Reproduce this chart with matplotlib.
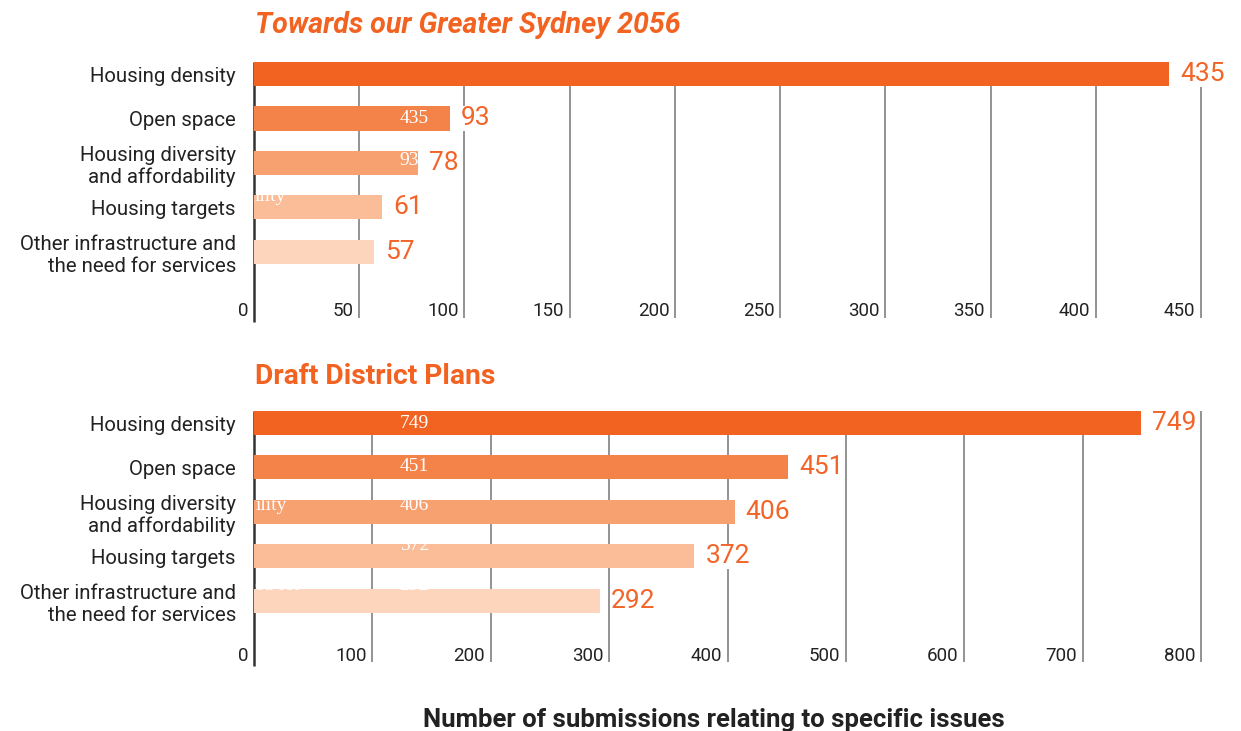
import matplotlib
matplotlib.use("Agg")
import matplotlib.pyplot as plt

# data
categories = ["Housing density", "Open space", "Housing diversity\nand affordability",
              "Housing targets", "Other infrastructure and\nthe need for services"]
sydney_2056 = [435, 93, 78, 61, 57]
district_plans = [749, 451, 406, 372, 292]
ticks_top = [0, 50, 100, 150, 200, 250, 300, 350, 400, 450]
ticks_bottom = [0, 100, 200, 300, 400, 500, 600, 700, 800]

bar_colors = ["#F26322", "#F4834A", "#F7A171", "#FABD97", "#FDD5BD"]
orange = "#F26322"
label_orange = "#F26428"

plt.rcParams['font.family'] = ['Roboto', 'DejaVu Sans']

W, H = 1241, 731
fig = plt.figure(figsize=(W / 100, H / 100), dpi=100)


def px_axes(left, top, right, bottom):
    return fig.add_axes([left / W, 1 - bottom / H, (right - left) / W, (bottom - top) / H])


def draw_panel(ax, values, ticks, xmax, ybottom, tick_y, ghosts):
    rows = list(range(len(values)))
    ax.set_xlim(0, xmax)
    ax.set_ylim(ybottom, -0.27)
    for t in ticks[1:]:
        ax.vlines(t, -0.27, ybottom - 0.05, color="#808080", lw=1.2, zorder=1, clip_on=False)
    ax.vlines(0, -0.27, ybottom + 0.05, color="#333333", lw=1.8, zorder=1, clip_on=False)
    ax.barh(rows, values, height=0.54, color=bar_colors, zorder=2)
    for r, v in zip(rows, values):
        ax.annotate(str(v), (v, r), xytext=(8, 0), textcoords="offset points",
                    ha="left", va="center", fontsize=19, color=label_orange,
                    fontweight="normal", zorder=4,
                    bbox=dict(facecolor="white", edgecolor="none", pad=0.3))
    for t in ticks:
        ax.annotate(str(t), (t, tick_y), xytext=(-4, 0), textcoords="offset points",
                    ha="right", va="center", fontsize=13.5, color="#222222")
    # white ghost labels left over on the bars
    for txt, x, y in ghosts:
        ax.text(x, y, txt, color="white", fontsize=14, family="Liberation Serif",
                ha="left", va="center", zorder=3)
    ax.set_yticks(rows)
    ax.set_yticklabels(categories, fontsize=14.7, color="#222222")
    ax.tick_params(axis="y", length=0, pad=13)
    ax.set_xticks([])
    for s in ax.spines.values():
        s.set_visible(False)
    ax.patch.set_visible(False)


ax1 = px_axes(254, 62, 1201, 320)
draw_panel(ax1, sydney_2056, ticks_top, 450, 5.53, 5.33,
           [("435", 69, 1.0), ("93", 69, 1.95), ("ility", 0.5, 2.75)])

ax2 = px_axes(254, 411, 1201, 664)
draw_panel(ax2, district_plans, ticks_bottom, 800, 5.42, 5.24,
           [("749", 123, 0.02), ("451", 123, 0.97), ("406", 123, 1.85),
            ("372", 123, 2.75), ("292", 123, 3.65), ("ility", 1, 1.85), ("ed for", 1, 3.65)])

fig.text(255 / W, 1 - 25 / H, "Towards our Greater Sydney 2056", fontsize=20.6,
         fontweight="bold", fontstyle="italic", color=orange, ha="left", va="center")
fig.text(255 / W, 1 - 377 / H, "Draft District Plans", fontsize=20.3,
         fontweight="bold", color=orange, ha="left", va="center")
fig.text(714 / W, 1 - 720 / H, "Number of submissions relating to specific issues",
         fontsize=18.5, fontweight="bold", color="#222222", ha="center", va="center")

fig.savefig("out.png", dpi=100, facecolor="white")
